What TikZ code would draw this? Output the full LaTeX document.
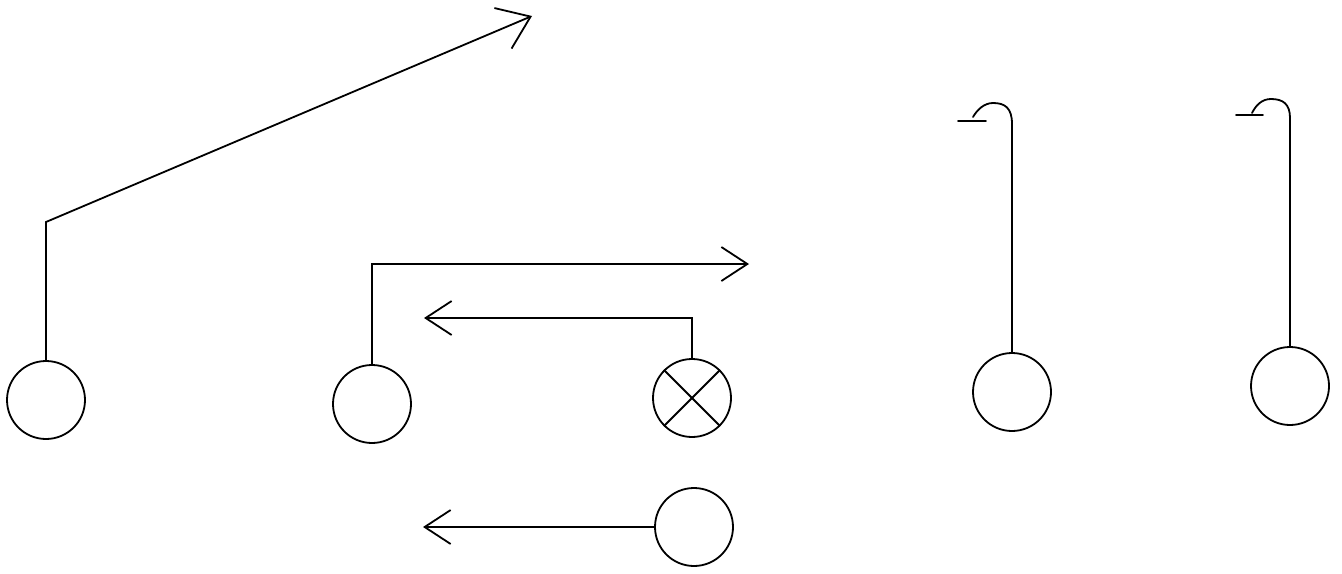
\documentclass[tikz,border=0pt]{standalone}
\usetikzlibrary{arrows.meta}
\begin{document}
\begin{tikzpicture}[x=0.5pt,y=-0.5pt,
  line width=0.9pt,
  player/.style={draw,circle,minimum size=39pt,inner sep=0pt,line width=0.9pt},
  route/.style={draw,line width=0.9pt,-{Straight Barb[length=13pt,width=17pt,line width=0.9pt]}},
  bigroute/.style={draw,line width=0.9pt,-{Straight Barb[length=15pt,width=22pt,line width=0.9pt]}},
  block/.style={draw,line width=0.9pt,line cap=round}]
\useasboundingbox[fill=white] (0,0) rectangle (1342,573);
% players
\node[player] (c1) at (46,400) {};
\node[player] (c2) at (372,404) {};
\node[player] (cx) at (692,398) {};
\node[player] (c3) at (694,527) {};
\node[player] (c4) at (1012,392) {};
\node[player] (c5) at (1290,386) {};
\draw (cx.45) -- (cx.225);
\draw (cx.135) -- (cx.315);
% route 1
\coordinate (k1) at (46,222);
\coordinate (t1) at (532,16);
\draw[bigroute] (c1.north) -- (k1) -- (t1);
% route 2
\coordinate (k2) at (372,264);
\coordinate (t2) at (749,264);
\draw[route] (c2.north) -- (k2) -- (t2);
% route 3
\coordinate (k3) at (692,318);
\coordinate (t3) at (424,318);
\draw[route] (cx.north) -- (k3) -- (t3);
% route 4
\coordinate (t4) at (423,527);
\draw[route] (c3.west) -- (t4);
% blocks
\coordinate (b4) at (1012,124);
\coordinate (e4) at (973,117);
\coordinate (d4a) at (958,121);
\coordinate (d4b) at (986,121);
\draw[block] (c4.north) -- (b4) .. controls (1012,108) and (1005,103) .. (993,103) .. controls (984,103) and (977,110) .. (e4);
\draw[block] (d4a) -- (d4b);
\coordinate (b5) at (1290,118);
\coordinate (e5) at (1252,113);
\coordinate (d5a) at (1236,115);
\coordinate (d5b) at (1263,115);
\draw[block] (c5.north) -- (b5) .. controls (1290,104) and (1283,99) .. (1271,99) .. controls (1262,99) and (1256,105) .. (e5);
\draw[block] (d5a) -- (d5b);
\end{tikzpicture}
\end{document}
